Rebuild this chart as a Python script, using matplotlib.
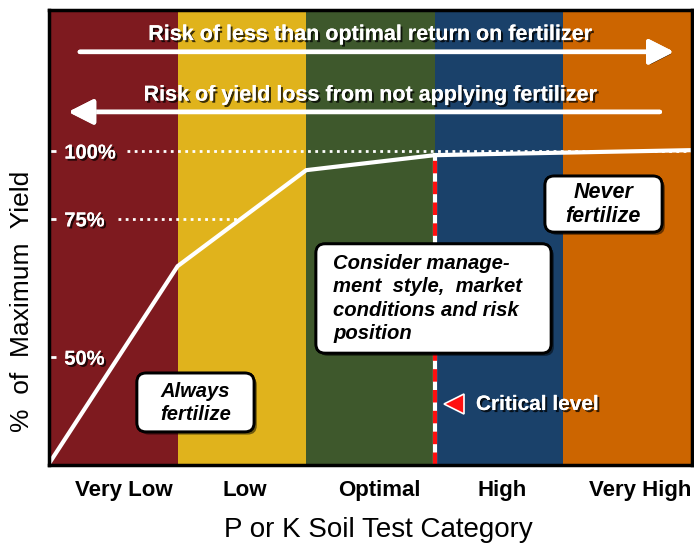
import matplotlib
matplotlib.use("Agg")
import matplotlib.pyplot as plt
import matplotlib.patheffects as pe
from matplotlib.patches import FancyBboxPatch
import numpy as np

plt.rcParams['font.family'] = ['Liberation Sans', 'DejaVu Sans']

# categories and band colours
categories = ['Very Low', 'Low', 'Optimal', 'High', 'Very High']
band_colors = ['#7e1a1f', '#e0b31c', '#3e582c', '#1a416a', '#cc6500']
label_pos = [0.58, 1.52, 2.57, 3.52, 4.60]

# yield response curve (schematic, axis units 0-100 = plot height)
curve_x = [0, 1, 2, 3, 5]
curve_y = [0.3, 43.7, 64.8, 68.1, 69.2]

# y reference marks
ytick_pos = [69.0, 54.1, 23.7]
ytick_labels = ['100%', '75%', '50%']

critical_x = 3.0

shadow = [pe.withSimplePatchShadow(offset=(1.5, -1.5), shadow_rgbFace='black', alpha=0.75), pe.Normal()]

fig = plt.figure(figsize=(6.94, 5.44), dpi=100)
ax = fig.add_axes((49 / 694, 79 / 544, 643 / 694, 455 / 544))

ax.bar(np.arange(len(categories)), 100, width=1.0, align='edge', color=band_colors, zorder=0)
ax.set_xlim(0, 5)
ax.set_ylim(0, 100)

# dotted reference lines
ax.plot([0.61, 5], [ytick_pos[0]] * 2, color='white', lw=2, ls=(0, (1, 1.6)), zorder=2)
ax.plot([0.54, 1.46], [ytick_pos[1]] * 2, color='white', lw=2, ls=(0, (1, 1.6)), zorder=2)

# critical level line
ax.plot([critical_x, critical_x], [0, curve_y[3]], color='white', lw=3, zorder=3)
ax.plot([critical_x, critical_x], [0, curve_y[3]], color='#ff1010', lw=3, ls=(0, (3, 2)), zorder=3)

# yield curve
ax.plot(curve_x, curve_y, color='white', lw=3, solid_joinstyle='miter', zorder=4)

# arrows
head = '-|>,head_length=0.75,head_width=0.38'
ax.annotate('', xy=(4.86, 90.8), xytext=(0.24, 90.8),
            arrowprops=dict(arrowstyle=head, mutation_scale=20, lw=3.2,
                            color='white', shrinkA=0, shrinkB=0, path_effects=shadow), zorder=5)
ax.annotate('', xy=(0.15, 77.6), xytext=(4.75, 77.6),
            arrowprops=dict(arrowstyle=head, mutation_scale=20, lw=3.2,
                            color='white', shrinkA=0, shrinkB=0, path_effects=shadow), zorder=5)
ax.text(2.5, 94.6, 'Risk of less than optimal return on fertilizer', color='white', fontsize=15.5,
        fontweight='bold', ha='center', va='center', path_effects=shadow, zorder=6)
ax.text(2.5, 81.3, 'Risk of yield loss from not applying fertilizer', color='white', fontsize=15.5,
        fontweight='bold', ha='center', va='center', path_effects=shadow, zorder=6)

# critical level marker
ax.plot([3.15], [13.3], marker='<', markersize=15, color='#ff1010', mec='white', mew=1.2, zorder=6)
ax.text(3.32, 13.3, 'Critical level', color='white', fontsize=15, fontweight='bold',
        ha='left', va='center', path_effects=shadow, zorder=6)

# rounded boxes
ux = 643 / 5.0
uy = 455 / 100.0
def box(x0, x1, y0, y1):
    p = FancyBboxPatch((x0, y0), x1 - x0, y1 - y0, boxstyle='round,pad=0,rounding_size=0.07',
                       mutation_aspect=ux / uy, facecolor='white', edgecolor='black', lw=2, zorder=7,
                       path_effects=[pe.withSimplePatchShadow(offset=(2, -2), shadow_rgbFace='black', alpha=0.5),
                                     pe.Normal()])
    ax.add_patch(p)

box(0.684, 1.594, 7.3, 20.2)
ax.text(1.14, 13.6, 'Always\nfertilize', fontsize=14.5, fontweight='bold', style='italic', ha='center',
        va='center', linespacing=1.25, zorder=8)
box(2.076, 3.904, 24.6, 48.6)
ax.text(2.21, 36.6, 'Consider manage-\nment  style,  market\nconditions and risk\nposition', fontsize=14.6,
        fontweight='bold', style='italic', ha='left', va='center', linespacing=1.3, zorder=8)
box(3.857, 4.767, 51.2, 63.5)
ax.text(4.31, 57.2, 'Never\nfertilize', fontsize=15.5, fontweight='bold', style='italic', ha='center',
        va='center', linespacing=1.2, zorder=8)

# axes styling
ax.set_xticks(label_pos, categories, fontsize=16, fontweight='bold')
ax.tick_params(axis='x', length=0, pad=11)
ax.set_yticks(ytick_pos, ytick_labels, fontsize=14.5, fontweight='bold', color='white')
ax.tick_params(axis='y', direction='in', length=5, width=2, color='white', pad=-11)
for t in ax.get_yticklabels():
    t.set_ha('left')
    t.set_path_effects(shadow)
    t.set_zorder(6)
for s in ax.spines.values():
    s.set_linewidth(2.5)
    s.set_color('black')
    s.set_zorder(9)

ax.set_xlabel('P or K Soil Test Category', fontsize=20, labelpad=10)
ax.set_ylabel('%  of  Maximum  Yield', fontsize=19)
ax.yaxis.set_label_coords(-0.024, 0.36)
ax.xaxis.set_label_coords(0.513, -0.115)

fig.savefig('out.png', dpi=100)
